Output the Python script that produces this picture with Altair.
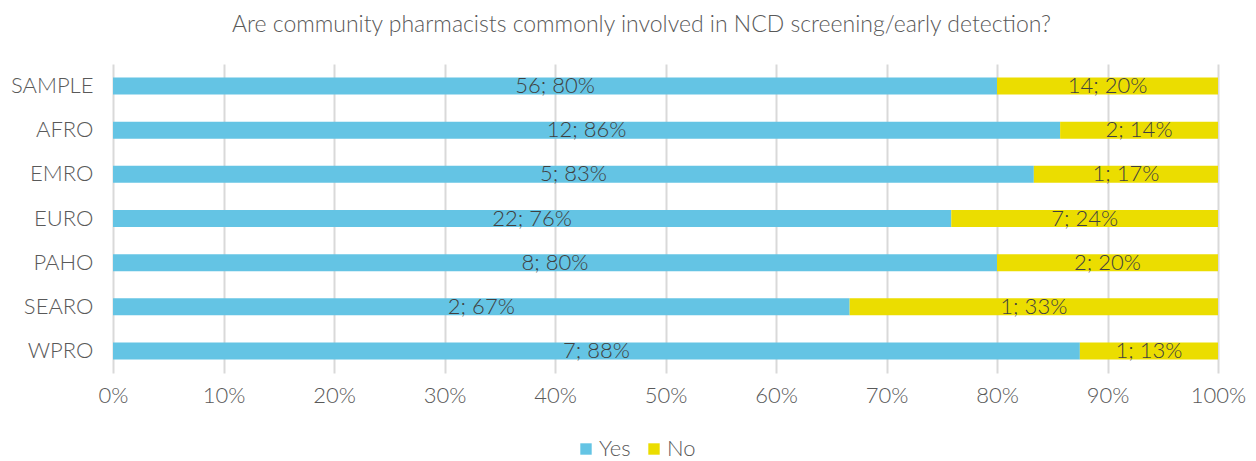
import altair as alt
import pandas as pd

regions = ["SAMPLE", "AFRO", "EMRO", "EURO", "PAHO", "SEARO", "WPRO"]
yes_n = [56, 12, 5, 22, 8, 2, 7]
no_n = [14, 2, 1, 7, 2, 1, 1]
yes_pct = [80, 86, 83, 76, 80, 67, 88]
no_pct = [20, 14, 17, 24, 20, 33, 13]

rows = []
for i, r in enumerate(regions):
    tot = yes_n[i] + no_n[i]
    rows.append({"region": r, "answer": "Yes", "order": 0, "share": yes_n[i] / tot,
                 "label": f"{yes_n[i]}; {yes_pct[i]}%"})
    rows.append({"region": r, "answer": "No", "order": 1, "share": no_n[i] / tot,
                 "label": f"{no_n[i]}; {no_pct[i]}%"})
df = pd.DataFrame(rows)

FONT = "Lato"
GRAY = "#595959"

base = alt.Chart(df).encode(
    y=alt.Y("region:N", sort=regions, title=None,
            axis=alt.Axis(labelFontSize=22, labelColor=GRAY, labelFont=FONT,
                          labelFontWeight=300, labelPadding=20, ticks=False,
                          domain=False, grid=False)),
)

bars = base.mark_bar(size=17).encode(
    x=alt.X("share:Q", stack="normalize", scale=alt.Scale(domain=[0, 1], nice=False),
            title=None,
            axis=alt.Axis(format="%", values=[i / 10 for i in range(11)],
                          labelFontSize=22, labelColor=GRAY, labelFont=FONT,
                          labelFontWeight=300, labelPadding=12, labelFlush=False,
                          domain=False, ticks=True, tickSize=0, grid=True,
                          gridColor="#d9d9d9", gridWidth=2)),
    color=alt.Color("answer:N", sort=["Yes", "No"],
                    scale=alt.Scale(domain=["Yes", "No"], range=["#64c4e4", "#ebdd00"]),
                    legend=alt.Legend(title=None, orient="none", direction="horizontal",
                                      legendX=462, legendY=374, symbolType="square",
                                      symbolSize=130, symbolStrokeWidth=0,
                                      labelFontSize=22, labelColor=GRAY, labelFont=FONT,
                                      labelFontWeight=300, columnPadding=12,
                                      labelOffset=2)),
    order=alt.Order("order:Q"),
)

texts = base.mark_text(fontSize=22, font=FONT, fontWeight=300, color="#404040").encode(
    x=alt.X("share:Q", stack="normalize", bandPosition=0.5),
    text="label:N",
    order=alt.Order("order:Q"),
)

chart = alt.layer(bars, texts).properties(
    width=1105, height=309,
    title=alt.Title("Are community pharmacists commonly involved in NCD screening/early detection?",
                    fontSize=23, font=FONT, fontWeight=300, color=GRAY,
                    anchor="middle", frame="group", offset=27, dx=-24),
    autosize=alt.AutoSizeParams(type="none"),
    padding={"left": 105, "top": 56, "right": 30, "bottom": 88},
).configure_view(stroke=None)

chart.save("out.html", embed_options={"renderer": "svg", "actions": False})
